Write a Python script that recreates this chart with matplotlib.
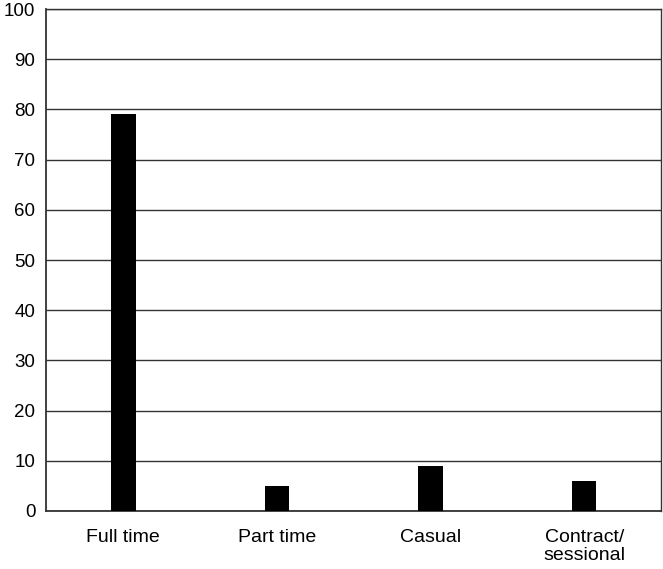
import matplotlib
matplotlib.use("Agg")
import matplotlib.pyplot as plt

categories = ["Full time", "Part time", "Casual", "Contract/\nsessional"]
values = [79, 5, 9, 6]
yticks = list(range(0, 101, 10))

plt.rcParams["font.family"] = ["Liberation Sans", "DejaVu Sans"]

fig = plt.figure(figsize=(6.63, 5.69), dpi=100)
ax = fig.add_axes([0.070, 0.102, 0.927, 0.882])

x = range(len(categories))
ax.bar(x, values, width=0.16, color="black", zorder=3)

ax.set_xlim(-0.5, len(categories) - 0.5)
ax.set_ylim(0, 100)
ax.set_yticks(yticks)
ax.set_xticks(list(x))
ax.set_xticklabels(categories, fontsize=14, linespacing=1.1)
ax.tick_params(axis="y", labelsize=13.5, length=0, pad=8)
ax.tick_params(axis="x", length=0, pad=13)
ax.yaxis.grid(True, color="#333333", linewidth=1, zorder=0)
ax.set_axisbelow(True)
for side in ["left", "bottom", "right", "top"]:
    ax.spines[side].set_color("#333333")
    ax.spines[side].set_linewidth(1)
ax.spines["left"].set_linewidth(1.3)
ax.spines["bottom"].set_linewidth(1.3)

fig.savefig("out.png", dpi=100)
